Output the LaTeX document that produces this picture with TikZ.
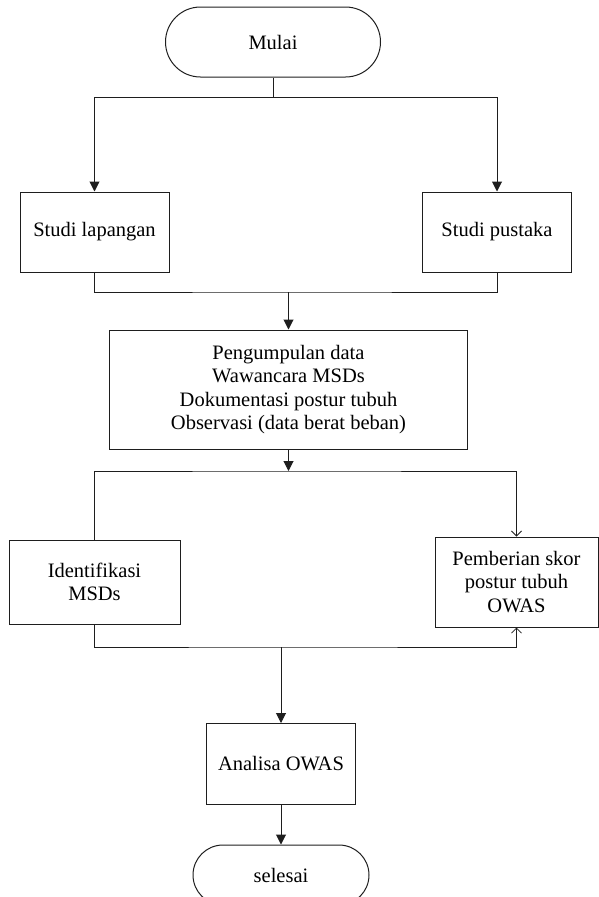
\documentclass[tikz,border=0pt]{standalone}
\usepackage{fontspec}
\setmainfont{Liberation Serif}
\usepackage{tikz}
\usetikzlibrary{arrows.meta,positioning,calc}
\definecolor{linegray}{HTML}{1E1E1E}

\begin{document}
\begin{tikzpicture}[
  x=1pt,y=-1pt,font=\fontsize{20.5}{23.5}\selectfont,
  box/.style={draw=linegray,line width=1pt,align=center,inner sep=0pt},
  term/.style={box,rounded corners=35pt,minimum width=215pt,minimum height=70pt},
  flow/.style={-{Triangle[length=10pt,width=10pt]},line width=1pt,draw=linegray},
  thinflow/.style={-{Straight Barb[length=5pt,width=10pt]},line width=.8pt,draw=linegray},
  link/.style={line width=1pt,draw=linegray}
]
\useasboundingbox (0,0) rectangle (598,897);
\node[term] (mulai) at (273,42) {Mulai};
\node[box,minimum width=149pt,minimum height=80pt] (lap) at (94.5,232) {Studi lapangan};
\node[box,minimum width=149pt,minimum height=80pt] (pus) at (497,232) {Studi pustaka};
\node[box,minimum width=358pt,minimum height=119pt] (kumpul) at (288.5,389.5)
  {Pengumpulan data\\ Wawancara MSDs\\ Dokumentasi postur tubuh\\ Observasi (data berat beban)};
\node[box,minimum width=171pt,minimum height=84pt] (ident) at (94.5,582) {Identifikasi\\ MSDs};
\node[box,minimum width=163pt,minimum height=90pt] (beri) at (516.5,582) {Pemberian skor\\ postur tubuh\\ OWAS};
\node[box,minimum width=149pt,minimum height=81pt] (analisa) at (281,764) {Analisa OWAS};
\node[term,rounded corners=30pt,minimum width=176pt,minimum height=60pt] (selesai) at (281,875) {selesai};
\coordinate (j1) at (273,97);
\coordinate (j2) at (288.5,292);
\coordinate (j3) at (288.5,471);
\coordinate (j4) at (281,647);
\draw[link] (mulai.south) -- (j1);
\draw[flow] (j1) -| (lap.north);
\draw[flow] (j1) -| (pus.north);
\draw[link] (lap.south) |- (j2) -| (pus.south);
\draw[flow] (j2) -- (kumpul.north);
\draw[flow] (kumpul.south) -- (j3);
\draw[thinflow] (ident.north) |- (j3) -| (beri.north);
\draw[thinflow] (ident.south) |- (j4) -| (beri.south);
\draw[flow] (j4) -- (analisa.north);
\draw[flow] (analisa) -- (selesai);
\end{tikzpicture}
\end{document}
